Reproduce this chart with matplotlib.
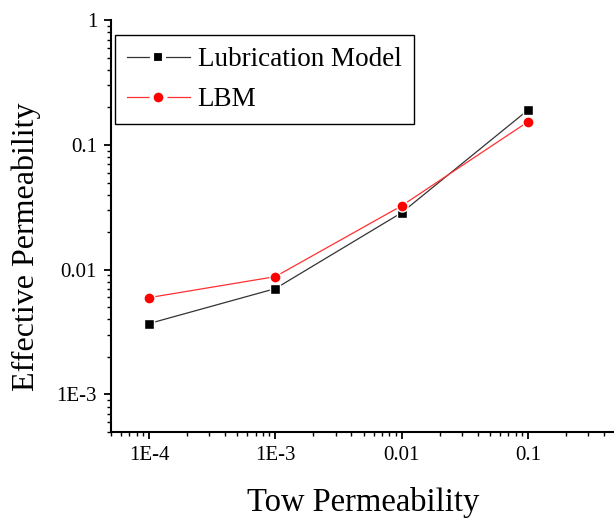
import matplotlib.pyplot as plt
from matplotlib.ticker import FixedLocator, FixedFormatter, LogLocator, NullFormatter

plt.rcParams['font.family'] = ['Liberation Serif', 'DejaVu Serif']

tow_perm = [1e-4, 1e-3, 1e-2, 1e-1]
lubrication = [0.0037, 0.00705, 0.0286, 0.19]
lbm = [0.00597, 0.0088, 0.0325, 0.153]

x_ticks = [1e-4, 1e-3, 1e-2, 1e-1]
x_labels = ['1E-4', '1E-3', '0.01', '0.1']
y_ticks = [1e-3, 1e-2, 1e-1, 1]
y_labels = ['1E-3', '0.01', '0.1', '1']

fig = plt.figure(figsize=(6.14, 5.18), dpi=100)
ax = fig.add_axes([0.1808, 0.166, 0.8225, 0.795])

ax.plot(tow_perm, lubrication, color='#333333', lw=0.9, marker='s', ms=7,
        mfc='black', mec='white', mew=1.0, label='Lubrication Model')
ax.plot(tow_perm, lbm, color='#ff3030', lw=0.9, marker='o', ms=8,
        mfc='red', mec='white', mew=1.0, label='LBM')

ax.set_xscale('log')
ax.set_yscale('log')
ax.set_xlim(5e-5, 0.5)
ax.set_ylim(5e-4, 1)

ax.xaxis.set_major_locator(FixedLocator(x_ticks))
ax.xaxis.set_major_formatter(FixedFormatter(x_labels))
ax.yaxis.set_major_locator(FixedLocator(y_ticks))
ax.yaxis.set_major_formatter(FixedFormatter(y_labels))
for axis in (ax.xaxis, ax.yaxis):
    axis.set_minor_locator(LogLocator(base=10, subs=range(2, 10), numticks=20))
    axis.set_minor_formatter(NullFormatter())

ax.spines['top'].set_visible(False)
ax.spines['right'].set_visible(False)
for s in ('left', 'bottom'):
    ax.spines[s].set_linewidth(1.5)
ax.tick_params(which='major', direction='out', length=5, width=1.3, labelsize=15, pad=5)
ax.tick_params(which='minor', direction='out', length=3, width=1.0)

ax.set_xlabel('Tow Permeability', fontsize=23.5, labelpad=16)
ax.set_ylabel('Effective Permeability', fontsize=23)
ax.yaxis.set_label_coords(-0.139, 0.45)

leg = ax.legend(loc='upper left', bbox_to_anchor=(0.008, 0.964), borderaxespad=0,
                fontsize=19.5, frameon=True, fancybox=False, edgecolor='black',
                framealpha=1, handlelength=2.3, handletextpad=0.3, borderpad=0.45,
                labelspacing=0.55)
leg.get_frame().set_linewidth(1.0)
# white ring round the legend markers leaves a gap in the line
for h in leg.legend_handles:
    h.set_markeredgewidth(3.0)
    h.set_markersize(h.get_markersize() + 2)

fig.savefig('out.png', dpi=100)
